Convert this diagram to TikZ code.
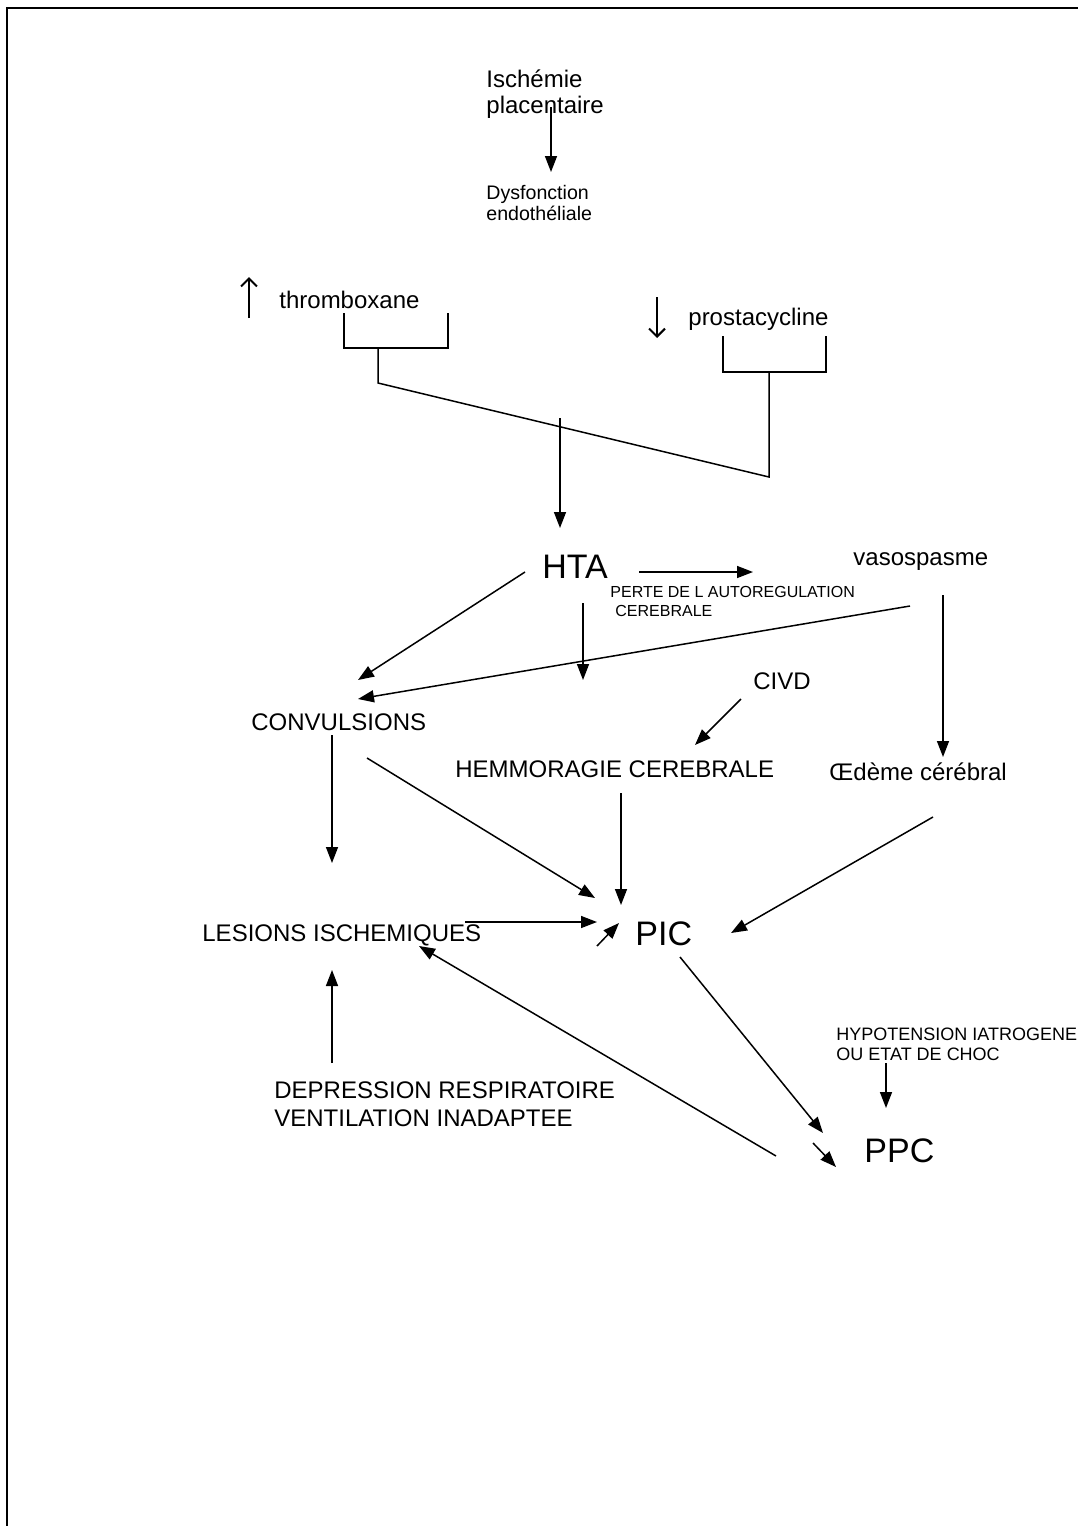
\documentclass[tikz,border=0pt]{standalone}
\usepackage{fontspec}
\setmainfont{Liberation Sans}
\usetikzlibrary{arrows.meta,positioning}

\begin{document}
\begin{tikzpicture}[
  x=0.5pt, y=-0.5pt,
  txt/.style={inner sep=0pt, anchor=base west, align=left,
              font=\fontsize{12}{13}\selectfont},
  big/.style={txt, font=\fontsize{17}{20}\selectfont},
  note/.style={txt, font=\fontsize{9}{10}\selectfont},
  arrow/.style={-{Triangle[length=8pt,width=6pt]}, line width=0.75pt},
  updown/.style={-{Straight Barb[length=4pt,width=8pt]}, line width=1pt},
  link/.style={line width=0.75pt}
]
  \useasboundingbox (0,0) rectangle (1078,1526);
  \draw[line width=1pt] (7,1526) -- (7,8) -- (1078,8);

  % texts (multi-line ones sit on their last line)
  \node[txt] (isch) at (486,113) {Ischémie\\placentaire};
  \node[txt, font=\fontsize{9.8}{10.5}\selectfont] (dysf) at (486,220) {Dysfonction\\endothéliale};
  \node[txt] (thromb) at (279,308) {thromboxane};
  \node[txt] (prosta) at (688,325) {prostacycline};
  \node[big] (hta) at (542,578) {HTA};
  \node[txt] (vaso) at (853,565) {vasospasme};
  \node[txt, font=\fontsize{8}{9.5}\selectfont] (perte) at (610,616) {PERTE DE L AUTOREGULATION\\\hspace*{2.5pt}CEREBRALE};
  \node[txt] (civd) at (753,689) {CIVD};
  \node[txt] (conv) at (251,730) {CONVULSIONS};
  \node[txt] (hemo) at (455,777) {HEMMORAGIE CEREBRALE};
  \node[txt] (oedeme) at (829,780) {Œdème cérébral};
  \node[txt] (lesions) at (202,941) {LESIONS ISCHEMIQUES};
  \node[big] (pic) at (635,945) {PIC};
  \node[big] (ppc) at (864,1162) {PPC};
  \node[note] (hypo) at (836,1060) {HYPOTENSION IATROGENE\\OU ETAT DE CHOC};
  \node[txt, font=\fontsize{12}{14}\selectfont] (depr) at (274,1126) {DEPRESSION RESPIRATOIRE\\VENTILATION INADAPTEE};

  % free ends
  \coordinate (isch-out) at (551,107);   \coordinate (dysf-in) at (551,172);
  \coordinate (tx-up0) at (249,318);     \coordinate (tx-up1) at (249,277);
  \coordinate (pc-dn0) at (657,297);     \coordinate (pc-dn1) at (657,338);
  \coordinate (tx-l) at (344,313);       \coordinate (tx-r) at (448,313);
  \coordinate (pc-l) at (723,336);       \coordinate (pc-r) at (826,336);
  \coordinate (tx-stem) at (378,348);    \coordinate (tx-bend) at (378,383);
  \coordinate (pc-stem) at (769,372);    \coordinate (pc-bend) at (769,477);
  \coordinate (join) at (560,418);       \coordinate (hta-in) at (560,528);
  \coordinate (hta-r) at (639,572);      \coordinate (vaso-in) at (753,572);
  \coordinate (hta-l) at (525,572);      \coordinate (conv-in1) at (358,680);
  \coordinate (hta-s) at (583,603);      \coordinate (hemo-in1) at (583,680);
  \coordinate (vaso-l) at (910,606);     \coordinate (conv-in2) at (358,699);
  \coordinate (vaso-s) at (943,595);     \coordinate (oed-in) at (943,757);
  \coordinate (civd-out) at (741,699);   \coordinate (hemo-in2) at (695,745);
  \coordinate (conv-s) at (332,735);     \coordinate (les-in1) at (332,863);
  \coordinate (conv-se) at (367,758);    \coordinate (pic-in1) at (595,898);
  \coordinate (hemo-s) at (621,793);     \coordinate (pic-in2) at (621,905);
  \coordinate (oed-s) at (933,817);      \coordinate (pic-in3) at (731,933);
  \coordinate (les-r) at (465,922);      \coordinate (pic-in4) at (597,922);
  \coordinate (pic-sw0) at (597,946);    \coordinate (pic-sw1) at (619,923);
  \coordinate (depr-n) at (332,1063);    \coordinate (les-in2) at (332,970);
  \coordinate (ppc-w) at (776,1156);     \coordinate (les-in3) at (419,946);
  \coordinate (pic-s) at (680,957);      \coordinate (ppc-in1) at (823,1133);
  \coordinate (ppc-nw0) at (813,1143);   \coordinate (ppc-nw1) at (836,1167);
  \coordinate (hypo-s) at (886,1063);    \coordinate (ppc-in2) at (886,1108);

  \draw[arrow] (isch-out) -- (dysf-in);
  \draw[updown] (tx-up0) -- (tx-up1);
  \draw[updown] (pc-dn0) -- (pc-dn1);

  % brackets
  \draw[link] (tx-l) -- ++(0,35) -| (tx-r);
  \draw[link] (pc-l) -- ++(0,36) -| (pc-r);
  \draw[link] (tx-stem) -- (tx-bend) -- (pc-bend) -- (pc-stem);
  \draw[arrow] (join) -- (hta-in);

  \draw[arrow] (hta-r) -- (vaso-in);
  \draw[arrow] (hta-l) -- (conv-in1);
  \draw[arrow] (hta-s) -- (hemo-in1);
  \draw[arrow] (vaso-l) -- (conv-in2);
  \draw[arrow] (vaso-s) -- (oed-in);
  \draw[arrow] (civd-out) -- (hemo-in2);
  \draw[arrow] (conv-s) -- (les-in1);
  \draw[arrow] (conv-se) -- (pic-in1);
  \draw[arrow] (hemo-s) -- (pic-in2);
  \draw[arrow] (oed-s) -- (pic-in3);
  \draw[arrow] (les-r) -- (pic-in4);
  \draw[arrow] (pic-sw0) -- (pic-sw1);
  \draw[arrow] (depr-n) -- (les-in2);
  \draw[arrow] (ppc-w) -- (les-in3);
  \draw[arrow] (pic-s) -- (ppc-in1);
  \draw[arrow] (ppc-nw0) -- (ppc-nw1);
  \draw[arrow] (hypo-s) -- (ppc-in2);
\end{tikzpicture}
\end{document}
